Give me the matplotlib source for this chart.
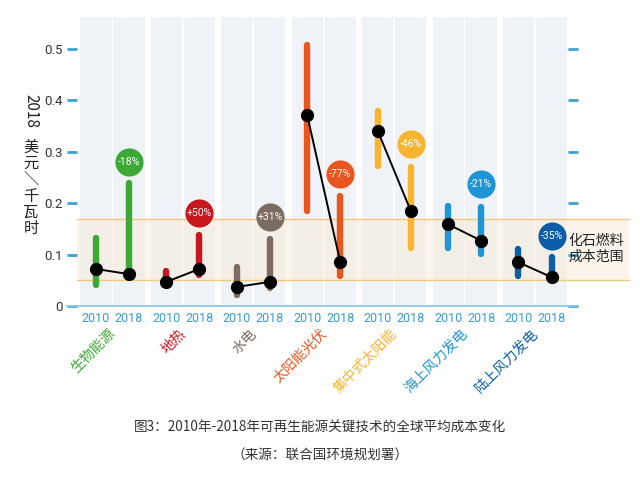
import matplotlib.pyplot as plt
import numpy as np

plt.rcParams['font.family'] = ['Noto Sans CJK SC', 'DejaVu Sans']

# data (USD/kWh, 2018 dollars)
techs = ['生物能源', '地热', '水电', '太阳能光伏', '集中式太阳能', '海上风力发电', '陆上风力发电']
colors = ['#3aa935', '#c8161d', '#7b6b60', '#e9561d', '#f6b42f', '#1e95d4', '#0c5ea9']
avg_2010 = [0.072, 0.047, 0.037, 0.371, 0.341, 0.159, 0.085]
avg_2018 = [0.062, 0.072, 0.047, 0.085, 0.185, 0.127, 0.056]
lo_2010 = [0.041, 0.040, 0.022, 0.185, 0.273, 0.113, 0.058]
hi_2010 = [0.132, 0.069, 0.076, 0.508, 0.380, 0.195, 0.110]
lo_2018 = [0.056, 0.060, 0.035, 0.058, 0.112, 0.102, 0.050]
hi_2018 = [0.239, 0.138, 0.130, 0.214, 0.271, 0.192, 0.095]
changes = ['-18%', '+50%', '+31%', '-77%', '-46%', '-21%', '-35%']
badge_y = [0.280, 0.180, 0.173, 0.257, 0.315, 0.237, 0.136]
fossil_lo, fossil_hi = 0.05, 0.17
years = ['2010', '2018']

fig = plt.figure(figsize=(6.4, 4.78), dpi=100)
ax = fig.add_axes([67 / 640, 1 - 306 / 478, 511 / 640, 289 / 478])

n = len(techs)
idx = np.arange(n)
off = 0.235
x10 = idx - off
x18 = idx + off

# column panels
for i in idx:
    ax.axvspan(i - 0.455, i - 0.012, color='#eff3f7', zorder=0, lw=0)
    ax.axvspan(i + 0.012, i + 0.455, color='#eff3f7', zorder=0, lw=0)

# fossil fuel cost band
ax.axhspan(fossil_lo, fossil_hi, xmin=0.02, xmax=1.10, color='#f7ead6', alpha=0.5,
           zorder=1, lw=0, clip_on=False)
for yv in (fossil_lo, fossil_hi):
    ax.axhline(yv, xmin=0.02, xmax=1.10, color='#f4c87c', lw=1, zorder=1, clip_on=False)
ax.text(0.982, (fossil_lo + fossil_hi) / 2 + 0.001, '化石燃料\n成本范围', transform=ax.get_yaxis_transform(),
        fontsize=10, color='#222222', va='center', ha='left', linespacing=1.25)

# range bars
for i in idx:
    ax.plot([x10[i], x10[i]], [lo_2010[i], hi_2010[i]], color=colors[i], lw=4.6,
            solid_capstyle='round', zorder=3)
    ax.plot([x18[i], x18[i]], [lo_2018[i], hi_2018[i]], color=colors[i], lw=4.6,
            solid_capstyle='round', zorder=3)
    # average line
    ax.plot([x10[i], x18[i]], [avg_2010[i], avg_2018[i]], color='black', lw=1.4,
            marker='o', ms=8.5, zorder=4)
    # change badge
    ax.scatter(x18[i], badge_y[i], s=410, color=colors[i], zorder=5, lw=0)
    ax.text(x18[i], badge_y[i], changes[i], color='white', fontsize=7.5,
            ha='center', va='center', zorder=6, family=['Roboto', 'DejaVu Sans'])

ax.set_xlim(-0.646, 6.61)
ax.set_ylim(0, 0.562)

ax.set_xticks(np.concatenate([x10, x18]))
ax.set_xticklabels(years[:1] * n + years[1:] * n, family=['Roboto', 'DejaVu Sans'])
ax.tick_params(axis='x', length=0, pad=4, labelsize=9, labelcolor='#3a9ccf')

ax.set_yticks([0, 0.1, 0.2, 0.3, 0.4, 0.5])
ax.set_yticklabels(['0', '0.1', '0.2', '0.3', '0.4', '0.5'], family=['Roboto', 'DejaVu Sans'])
ax.tick_params(axis='y', direction='in', length=7, width=2, color='#3ea2d4',
               labelsize=9.5, labelcolor='#333333', pad=3, right=True)

for s in ['top', 'left', 'right']:
    ax.spines[s].set_visible(False)
ax.spines['bottom'].set_color('#8cc8e6')
ax.spines['bottom'].set_linewidth(1.3)

# category labels
for i in idx:
    ax.text(i - 0.06, -0.04, techs[i], color=colors[i], fontsize=10, rotation=45,
            rotation_mode='anchor', ha='right', va='top', transform=ax.transData,
            clip_on=False)

# y axis label
fig.text(31 / 640, 1 - 111 / 478, '2018', rotation=270, fontsize=11, ha='center',
         va='center', color='#222222')
fig.text(31 / 640, 1 - 188 / 478, '美\n元\n＼\n千\n瓦\n时', fontsize=11, ha='center',
         va='center', color='#222222', linespacing=0.95)

# caption
fig.text(0.5, 1 - 428 / 478, '图3：2010年-2018年可再生能源关键技术的全球平均成本变化',
         fontsize=9.8, ha='center', va='center', color='#333333')
fig.text(0.5, 1 - 455 / 478, '（来源：联合国环境规划署）', fontsize=9.8, ha='center',
         va='center', color='#333333')

fig.savefig('out.png', dpi=100)
